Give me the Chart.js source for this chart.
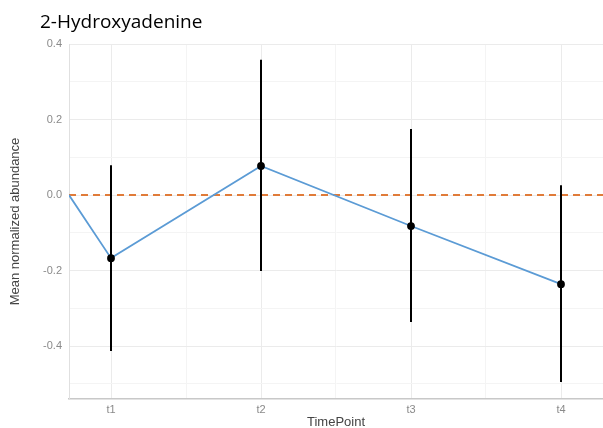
<!doctype html>
<html lang="en">
<head>
    <meta charset="utf-8">
    <title>2-Hydroxyadenine</title>
    <style>
        html, body { margin: 0; padding: 0; background: #fff; overflow: hidden; }
    </style>
</head>
<body>
    <canvas id="chart" width="603" height="428"></canvas>

    <script src="https://cdn.jsdelivr.net/npm/chart.js@4/dist/chart.umd.min.js"></script>
    <script>
        const TITLE = "2-Hydroxyadenine";
        const CATEGORIES = ["t1", "t2", "t3", "t4"];
        const POSITIONS = [1, 2, 3, 4];
        const MEANS = [-0.167, 0.077, -0.082, -0.236];
        const LOWER = [-0.413, -0.201, -0.336, -0.495];
        const UPPER = [0.079, 0.358, 0.175, 0.026];
        const START_POINT = { x: 0.72, y: 0 };
        const X_RANGE = [0.72, 4.28];
        const Y_RANGE = [-0.54, 0.4];
        const Y_TICKS = [-0.5, -0.4, -0.3, -0.2, -0.1, 0, 0.1, 0.2, 0.3, 0.4];
        const X_TICKS = [1, 1.5, 2, 2.5, 3, 3.5, 4];

        const isMajorY = v => Math.abs(Math.round(v * 10) % 2) === 0;

        const errorBars = POSITIONS.map((x, i) => ({
            type: "line",
            data: [{ x, y: LOWER[i] }, { x, y: UPPER[i] }],
            borderColor: "#000",
            borderWidth: 2,
            pointRadius: 0,
            order: 3
        }));

        const titlePlugin = {
            id: "leftTitle",
            afterDraw(chart) {
                const ctx = chart.ctx;
                ctx.save();
                ctx.font = "19px 'Open Sans', sans-serif";
                ctx.fillStyle = "#000";
                ctx.textBaseline = "middle";
                ctx.fillText(TITLE, 40, 23);
                ctx.restore();
            }
        };

        const config = {
            type: "line",
            data: {
                datasets: [
                    {
                        data: [{ x: X_RANGE[0], y: 0 }, { x: X_RANGE[1], y: 0 }],
                        borderColor: "#E07B39",
                        borderWidth: 2,
                        borderDash: [7, 5],
                        pointRadius: 0,
                        order: 4
                    },
                    ...errorBars,
                    {
                        data: [START_POINT, ...POSITIONS.map((x, i) => ({ x, y: MEANS[i] }))],
                        borderColor: "#5B9BD5",
                        borderWidth: 1.8,
                        pointRadius: [0, 3, 3, 3, 3],
                        pointBackgroundColor: "#000",
                        pointBorderColor: "#000",
                        order: 1
                    }
                ]
            },
            options: {
                responsive: false,
                animation: false,
                layout: { autoPadding: false, padding: { top: 44, right: 0, left: 0, bottom: 0 } },
                plugins: {
                    legend: { display: false },
                    tooltip: { enabled: false }
                },
                scales: {
                    x: {
                        type: "linear",
                        min: X_RANGE[0],
                        max: X_RANGE[1],
                        afterBuildTicks: axis => { axis.ticks = X_TICKS.map(v => ({ value: v })); },
                        afterFit: axis => {
                            axis.height = 29;
                            axis.paddingLeft = 0;
                            axis.paddingRight = 0;
                        },
                        border: { color: "#c8c8c8", width: 1.5 },
                        grid: {
                            color: ctx => Number.isInteger(ctx.tick.value) ? "#ebebeb" : "#f4f4f4",
                            drawTicks: false
                        },
                        ticks: {
                            autoSkip: false,
                            maxRotation: 0,
                            padding: 4,
                            color: "#8a8a8a",
                            font: { family: "'Liberation Sans', Arial, sans-serif", size: 11 },
                            callback: v => Number.isInteger(v) ? CATEGORIES[v - 1] : ""
                        },
                        title: {
                            display: true,
                            text: "TimePoint",
                            color: "#444",
                            padding: { top: 3, bottom: 0 },
                            font: { family: "'Liberation Sans', Arial, sans-serif", size: 13, lineHeight: 0.8 }
                        }
                    },
                    y: {
                        min: Y_RANGE[0],
                        max: Y_RANGE[1],
                        afterBuildTicks: axis => { axis.ticks = Y_TICKS.map(v => ({ value: v })); },
                        afterFit: axis => {
                            axis.width = 69;
                            axis.paddingTop = 0;
                            axis.paddingBottom = 0;
                        },
                        border: { color: "#e0e0e0", width: 1 },
                        grid: {
                            color: ctx => isMajorY(ctx.tick.value) ? "#ebebeb" : "#f4f4f4",
                            drawTicks: false
                        },
                        ticks: {
                            padding: 7,
                            color: "#8a8a8a",
                            font: { family: "'Liberation Sans', Arial, sans-serif", size: 11 },
                            callback: v => isMajorY(v) ? v.toFixed(1) : ""
                        },
                        title: {
                            display: true,
                            text: "Mean normalized abundance",
                            color: "#444",
                            padding: { top: 8, bottom: 0 },
                            font: { family: "'Liberation Sans', Arial, sans-serif", size: 13 }
                        }
                    }
                }
            },
            plugins: [titlePlugin]
        };
        const chart = new Chart("chart", config);
    </script>
</body>
</html>
